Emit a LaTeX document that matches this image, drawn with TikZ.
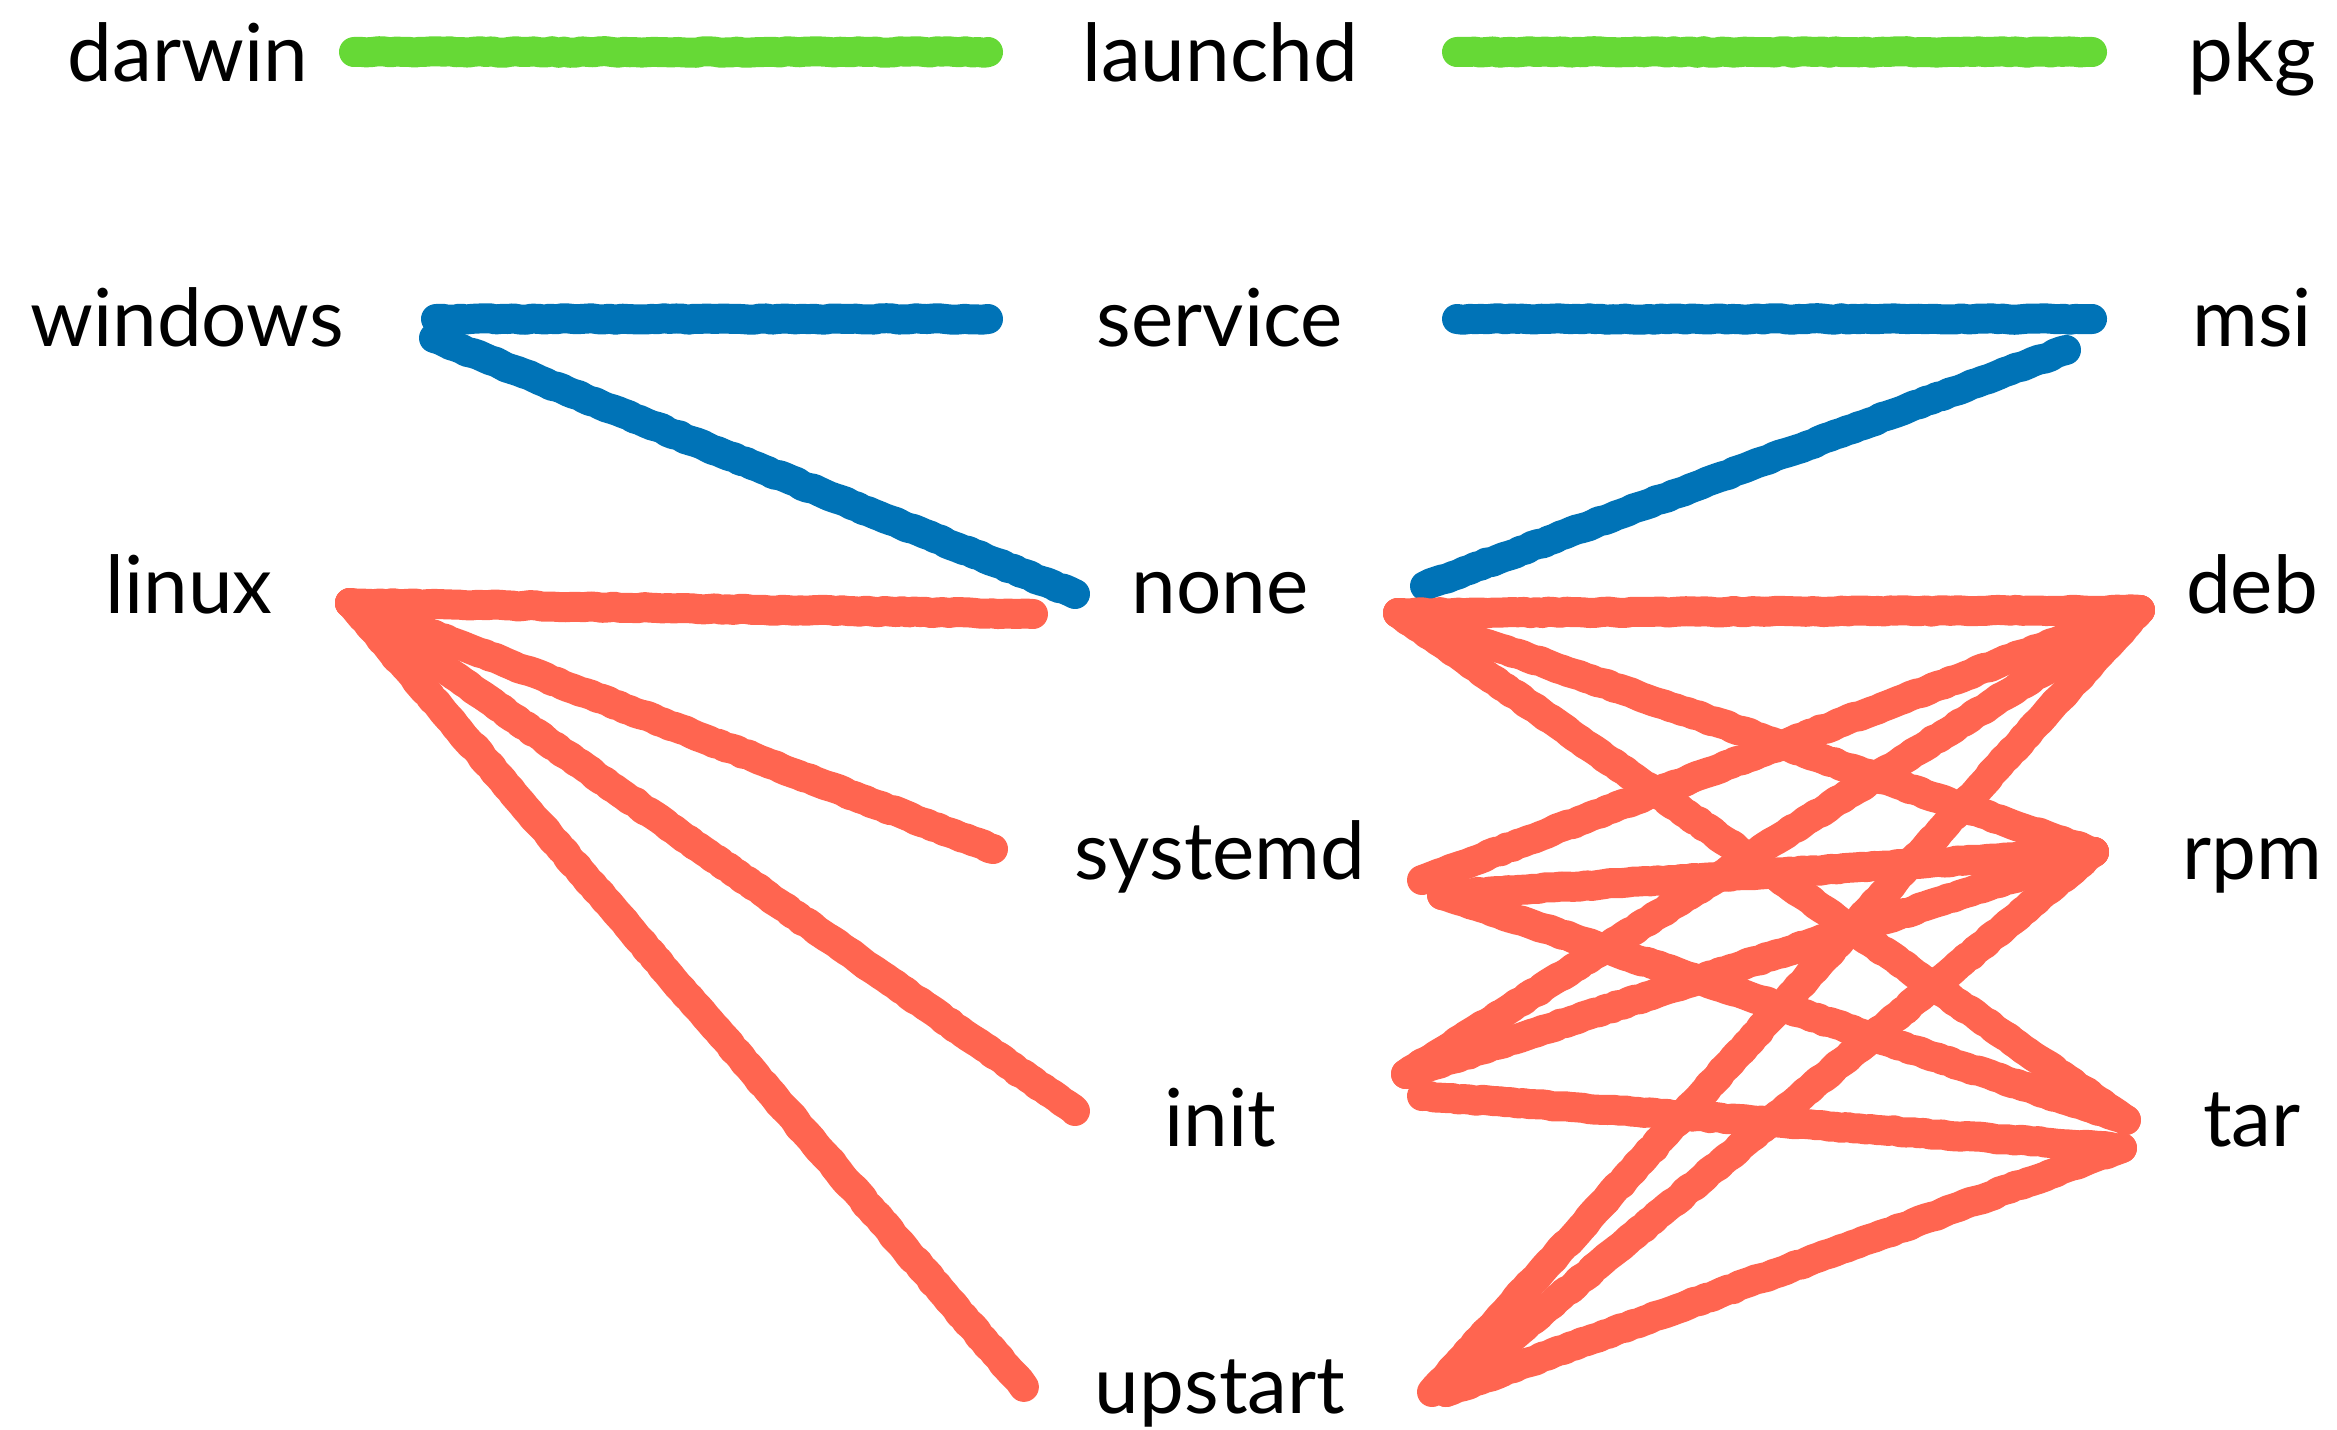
\documentclass[tikz,border=0pt]{standalone}
\usepackage{fontspec}
\setmainfont{Lato}
\usetikzlibrary{decorations.pathmorphing}
\definecolor{cgreen}{HTML}{66D936}
\definecolor{cblue}{HTML}{0073B7}
\definecolor{cred}{HTML}{FF6550}
\begin{document}
\begin{tikzpicture}[x=0.5pt,y=-0.5pt,
  lbl/.style={anchor=base, inner sep=0pt, font=\fontsize{40}{48}\selectfont},
  crayon/.style={line width=15pt, line cap=round, line join=round,
    decorate, decoration={random steps, segment length=3pt, amplitude=0.4pt}},
  gline/.style={crayon, draw=cgreen},
  bline/.style={crayon, draw=cblue},
  rline/.style={crayon, draw=cred}]
\useasboundingbox (0,0) rectangle (2337,1429);
\pgfmathsetseed{7}
% labels
\node[lbl] (darwin)  at (188,82)   {darwin};
\node[lbl] (windows) at (187,346)  {windows};
\node[lbl] (linux)   at (189,613)  {linux};
\node[lbl] (launchd) at (1220,82)  {launchd};
\node[lbl] (service) at (1220,346) {service};
\node[lbl] (none)    at (1220,613) {none};
\node[lbl] (systemd) at (1220,879) {systemd};
\node[lbl] (init)    at (1220,1146){init};
\node[lbl] (upstart) at (1220,1413){upstart};
\node[lbl] (pkg)     at (2252,82)  {pkg};
\node[lbl] (msi)     at (2252,346) {msi};
\node[lbl] (deb)     at (2252,613) {deb};
\node[lbl] (rpm)     at (2252,879) {rpm};
\node[lbl] (tar)     at (2252,1146){tar};
% connector end points
\coordinate (darwinR) at (354,52);
\coordinate (launchdL) at (988,52);
\coordinate (launchdR) at (1457,52);
\coordinate (pkgL) at (2092,52);
\coordinate (windowsR) at (436,319);
\coordinate (windowsR2) at (434,338);
\coordinate (serviceL) at (988,319);
\coordinate (serviceR) at (1457,319);
\coordinate (msiL) at (2092,319);
\coordinate (msiL2) at (2066,350);
\coordinate (noneLb) at (1075,594);
\coordinate (noneRb) at (1425,586);
\coordinate (linuxR) at (350,603);
\coordinate (noneL) at (1033,614);
\coordinate (systemdL) at (993,849);
\coordinate (initL) at (1075,1111);
\coordinate (upstartL) at (1024,1387);
\coordinate (noneR) at (1398,613);
\coordinate (systemdR) at (1422,880);
\coordinate (systemdR2) at (1442,895);
\coordinate (initR) at (1406,1074);
\coordinate (initR2) at (1422,1096);
\coordinate (upstartR) at (1432,1392);
\coordinate (upstartR2) at (1446,1392);
\coordinate (debL) at (2140,610);
\coordinate (rpmL) at (2094,852);
\coordinate (tarL) at (2126,1120);
\coordinate (tarL2) at (2122,1148);
% green
\draw[gline] (darwinR) -- (launchdL);
\draw[gline] (launchdR) -- (pkgL);
% blue
\draw[bline] (windowsR) -- (serviceL);
\draw[bline] (windowsR2) -- (noneLb);
\draw[bline] (serviceR) -- (msiL);
\draw[bline] (noneRb) -- (msiL2);
% red left
\draw[rline] (linuxR) -- (noneL);
\draw[rline] (linuxR) -- (systemdL);
\draw[rline] (linuxR) -- (initL);
\draw[rline] (linuxR) -- (upstartL);
% red right
\draw[rline] (noneR) -- (debL);
\draw[rline] (noneR) -- (rpmL);
\draw[rline] (noneR) -- (tarL);
\draw[rline] (systemdR) -- (debL);
\draw[rline] (systemdR2) -- (rpmL);
\draw[rline] (systemdR2) -- (tarL);
\draw[rline] (initR) -- (debL);
\draw[rline] (initR) -- (rpmL);
\draw[rline] (initR2) -- (tarL2);
\draw[rline] (upstartR) -- (debL);
\draw[rline] (upstartR2) -- (rpmL);
\draw[rline] (upstartR2) -- (tarL2);
\end{tikzpicture}
\end{document}
